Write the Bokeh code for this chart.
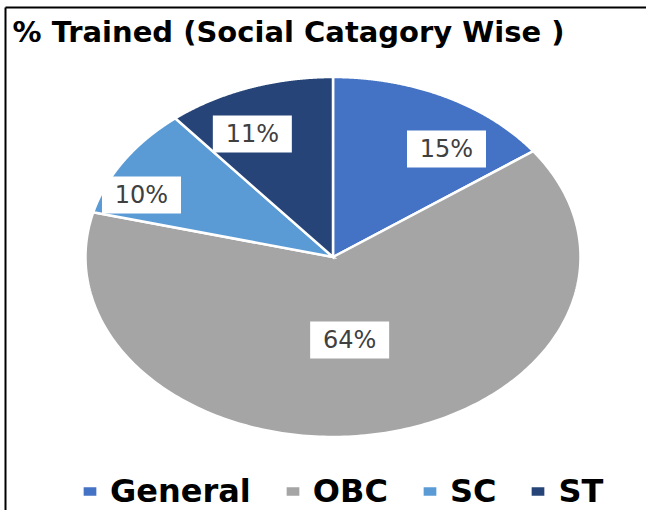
import numpy as np
from bokeh.plotting import figure
from bokeh.models import Range1d, Legend, LegendItem, ColumnDataSource
from bokeh.core.properties import value
from bokeh.embed import file_html
from bokeh.resources import INLINE

# ---- data ----
categories = ["General", "OBC", "SC", "ST"]
percent = [15, 64, 10, 11]
colors = ["#4472C4", "#A5A5A5", "#5B9BD5", "#264478"]
title_text = "% Trained (Social Catagory Wise )"

# ---- layout constants ----
W, H = 646, 510
CX, CY = 332.5, H - 256.5          # pie centre (data units = pixels)
RX, RY = 247.5, 180.0              # elliptical pie radii
LABEL_DANG = [10.4, 2.5, -8.4, -5.7]      # label angle nudge (deg, clockwise)
LABEL_R = [0.755, 0.466, 0.847, 0.757]    # label radial fraction
FONT = "DejaVu Sans"

p = figure(width=W, height=H, x_range=Range1d(0, W), y_range=Range1d(0, H),
           output_backend="svg", toolbar_location=None, min_border=0)
p.axis.visible = False
p.grid.visible = False
p.outline_line_color = None
p.background_fill_color = "white"
p.border_fill_color = "white"

total = float(sum(percent))
fr = np.concatenate([[0.0], np.cumsum(percent) / total])

xs, ys = [], []
for i in range(len(percent)):
    t = np.linspace(fr[i], fr[i + 1], 240)
    a = 2 * np.pi * t                      # clockwise from 12 o'clock
    xs.append([CX] + list(CX + RX * np.sin(a)))
    ys.append([CY] + list(CY + RY * np.cos(a)))

src = ColumnDataSource(dict(xs=xs, ys=ys, color=colors, cat=categories))
r = p.patches("xs", "ys", source=src, fill_color="color",
              line_color="white", line_width=2.5, line_join="miter")

# data labels
lx, ly, lt = [], [], []
for i, v in enumerate(percent):
    mid = (fr[i] + fr[i + 1]) / 2
    a = np.deg2rad(360 * mid + LABEL_DANG[i])
    lx.append(CX + LABEL_R[i] * RX * np.sin(a))
    ly.append(CY + LABEL_R[i] * RY * np.cos(a))
    lt.append(f"{v}%")
lsrc = ColumnDataSource(dict(x=lx, y=ly, t=lt))
p.rect("x", "y", width=79, height=37, width_units="screen", height_units="screen",
       source=lsrc, fill_color="white", line_color=None)
p.text("x", "y", text="t", source=lsrc, text_align="center", text_baseline="middle",
       text_font=value(FONT), text_font_size="24px", text_color="#404040")

# title
p.text(x=[12], y=[H - 31], text=[title_text], text_align="left", text_baseline="middle",
       text_font=value(FONT), text_font_style="bold", text_font_size="29px",
       text_color="black")

# frame (top and left edges visible, the rest is cut off)
p.segment(x0=[5, 5], y0=[H - 7, H - 7], x1=[W + 20, 5], y1=[H - 7, -20],
          line_color="black", line_width=2)

legend = Legend(
    items=[LegendItem(label=c, renderers=[r], index=i) for i, c in enumerate(categories)],
    orientation="horizontal", location=(80, 0),
    label_text_font=FONT, label_text_font_style="bold", label_text_font_size="32px",
    label_text_color="black",
    glyph_width=19, glyph_height=14, label_standoff=11, spacing=32,
    padding=0, margin=0, border_line_color=None, background_fill_alpha=0,
)
p.add_layout(legend)

open("out.html", "w").write(file_html(p, INLINE))
